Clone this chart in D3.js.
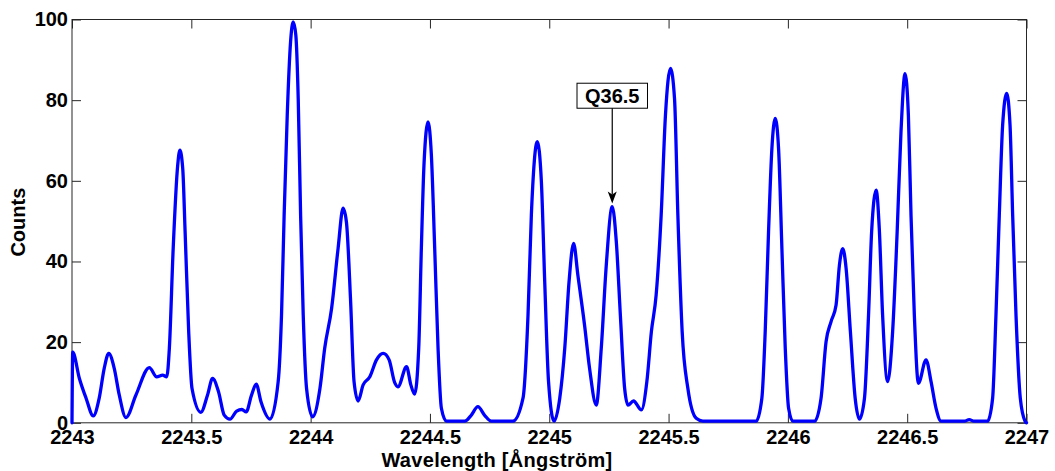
<!DOCTYPE html>
<html><head><meta charset="utf-8">
<script src="https://cdn.jsdelivr.net/npm/d3@7"></script>
<style>
body{margin:0;background:#fff}
svg{display:block}
text{font-family:"Liberation Sans",Arial,Helvetica,sans-serif;font-weight:bold;fill:#000}
</style>
</head><body><svg id="c" width="1055" height="471"></svg>
<script>
const wavelength = [
 2243.000,2243.003,2243.031,2243.059,2243.089,2243.114,2243.135,2243.154,2243.177,2243.198,
 2243.226,2243.268,2243.324,2243.355,2243.380,2243.397,2243.408,2243.424,2243.443,2243.452,
 2243.464,2243.474,2243.489,2243.503,2243.540,2243.568,2243.589,2243.614,2243.638,2243.662,
 2243.690,2243.712,2243.730,2243.752,2243.772,2243.792,2243.830,2243.864,2243.878,2243.889,
 2243.902,2243.916,2243.927,2243.938,2243.948,2243.958,2243.969,2243.983,2244.008,2244.039,
 2244.059,2244.088,2244.115,2244.136,2244.150,2244.167,2244.182,2244.199,2244.220,2244.248,
 2244.276,2244.304,2244.329,2244.352,2244.366,2244.402,2244.420,2244.436,2244.453,2244.464,
 2244.475,2244.492,2244.506,2244.520,2244.534,2244.548,2244.569,2244.646,2244.672,2244.701,
 2244.730,2244.757,2244.848,2244.890,2244.911,2244.925,2244.950,2244.967,2244.981,2244.997,
 2245.020,2245.044,2245.065,2245.083,2245.102,2245.120,2245.148,2245.169,2245.197,2245.218,
 2245.239,2245.264,2245.281,2245.298,2245.316,2245.330,2245.353,2245.386,2245.409,2245.428,
 2245.448,2245.469,2245.487,2245.508,2245.525,2245.539,2245.557,2245.581,2245.616,2245.644,
 2245.867,2245.891,2245.905,2245.919,2245.933,2245.947,2245.961,2245.975,2245.989,2246.003,
 2246.021,2246.112,2246.139,2246.160,2246.181,2246.202,2246.216,2246.230,2246.244,2246.262,
 2246.282,2246.300,2246.321,2246.338,2246.351,2246.370,2246.383,2246.397,2246.418,2246.439,
 2246.458,2246.474,2246.491,2246.505,2246.516,2246.530,2246.547,2246.579,2246.600,2246.621,
 2246.642,2246.740,2246.760,2246.780,2246.837,2246.858,2246.872,2246.886,2246.900,2246.917,
 2246.931,2246.942,2246.956,2246.974,2246.994,2247.000
];
const counts = [
 0.0,17.5,11.0,6.1,1.7,6.1,13.5,17.2,13.5,6.9,
 1.3,6.9,13.7,11.4,11.8,11.4,18.5,43.2,63.9,67.6,
 63.1,47.4,22.6,8.5,2.6,6.9,11.0,7.7,1.9,0.9,
 2.9,3.3,2.7,6.8,9.6,5.2,0.9,10.2,26.7,51.5,
 76.3,94.5,99.4,96.1,80.4,51.5,26.7,8.5,1.5,8.5,
 18.5,28.4,43.2,53.2,49.8,30.9,10.2,5.4,9.4,11.4,
 15.6,17.2,15.6,10.0,8.9,13.9,9.4,7.1,18.5,43.2,
 63.9,74.6,66.4,43.2,18.5,3.6,0.4,0.4,1.8,4.0,
 1.8,0.4,0.4,6.1,26.7,51.5,69.7,59.8,35.0,10.2,
 0.4,6.1,18.5,35.0,44.5,36.6,24.2,13.5,4.4,18.5,
 39.1,53.6,44.9,26.7,8.5,4.4,5.4,3.2,10.2,22.6,
 31.7,51.5,76.3,87.9,80.4,51.5,22.6,8.5,1.1,0.4,
 0.4,6.1,22.6,47.4,68.0,75.5,68.0,43.2,18.5,3.6,
 0.4,0.4,6.1,20.1,25.1,29.2,39.1,43.2,38.3,22.6,
 6.1,0.9,6.1,26.7,47.4,57.7,48.2,26.7,10.2,22.6,
 47.4,72.1,86.6,76.3,51.5,26.7,9.8,15.6,10.2,3.6,
 0.4,0.4,0.8,0.4,0.4,6.1,26.7,51.5,73.8,81.7,
 73.8,51.5,26.7,6.1,0.4,0.0
];
const xTicks = [2243, 2243.5, 2244, 2244.5, 2245, 2245.5, 2246, 2246.5, 2247];
const xTickLabels = ["2243", "2243.5", "2244", "2244.5", "2245", "2245.5", "2246", "2246.5", "2247"];
const yTicks = [0, 20, 40, 60, 80, 100];
const yTickLabels = ["0", "20", "40", "60", "80", "100"];
const xLabel = "Wavelength [Ångström]";
const yLabel = "Counts";
const annotationLabel = "Q36.5";
const annotationX = 2245.264;
const annotationY = 54.4;
const annotationBoxY = 81.1;

const W = 1055, H = 471;
const m = {left: 72, top: 19.5, right: 28.5, bottom: 48.2};
const svg = d3.select("#c");
const x = d3.scaleLinear().domain([2243, 2247]).range([m.left, W - m.right]);
const y = d3.scaleLinear().domain([0, 100]).range([H - m.bottom, m.top]);
const axisColor = "#262626";
const fs = "20px";

function styleAxis(g) {
  g.select(".domain").remove();
  g.selectAll(".tick line").attr("stroke", axisColor).attr("stroke-width", 1);
  g.selectAll(".tick text").attr("font-size", fs).attr("font-family", null).attr("fill", "#000");
  g.attr("font-family", null).attr("font-size", null);
}
const xi = d3.scaleOrdinal().domain(xTicks).range(xTickLabels);
const yi = d3.scaleOrdinal().domain(yTicks).range(yTickLabels);

svg.append("g").attr("transform", `translate(0,${y(0)})`)
  .call(d3.axisBottom(x).tickValues(xTicks).tickFormat(d => xi(d)).tickSizeInner(-9).tickSizeOuter(0).tickPadding(7.5))
  .call(styleAxis);
svg.append("g").attr("transform", `translate(0,${y(100)})`)
  .call(d3.axisTop(x).tickValues(xTicks).tickFormat("").tickSizeInner(-9).tickSizeOuter(0))
  .call(styleAxis);
svg.append("g").attr("transform", `translate(${x(2243)},0)`)
  .call(d3.axisLeft(y).tickValues(yTicks).tickFormat(d => yi(d)).tickSizeInner(-9).tickSizeOuter(0).tickPadding(4))
  .call(styleAxis);
svg.append("g").attr("transform", `translate(${x(2247)},0)`)
  .call(d3.axisRight(y).tickValues(yTicks).tickFormat("").tickSizeInner(-9).tickSizeOuter(0))
  .call(styleAxis);

svg.append("rect")
  .attr("x", x(2243)).attr("y", y(100))
  .attr("width", x(2247) - x(2243)).attr("height", y(0) - y(100))
  .attr("fill", "none").attr("stroke", axisColor).attr("stroke-width", 1);

const pts = wavelength.map((w, i) => [w, counts[i]]);
const line = d3.line().x(d => x(d[0])).y(d => y(d[1])).curve(d3.curveMonotoneX);
svg.append("path").datum(pts).attr("d", line)
  .attr("fill", "none").attr("stroke", "#0000ff").attr("stroke-width", 3.3)
  .attr("stroke-linejoin", "round").attr("stroke-linecap", "round");

// axis labels
svg.append("text").attr("x", 497).attr("y", 466.5).attr("text-anchor", "middle")
  .attr("font-size", fs).attr("letter-spacing", "0.3px").text(xLabel);
svg.append("text").attr("transform", `translate(25,${(y(0) + y(100)) / 2 + 1}) rotate(-90)`)
  .attr("text-anchor", "middle").attr("font-size", fs).text(yLabel);

// annotation
const ax = x(annotationX), ay = y(annotationY), by = y(annotationBoxY);
const ag = svg.append("g");
const t = ag.append("text").attr("x", ax).attr("y", by + 7.5).attr("text-anchor", "middle")
  .attr("font-size", fs).text(annotationLabel);
const bb = t.node().getBBox();
const padX = 8;
const boxW = bb.width + 2 * padX, boxH = 25;
ag.insert("rect", "text").attr("x", ax - boxW / 2).attr("y", by - boxH / 2)
  .attr("width", boxW).attr("height", boxH).attr("fill", "#fff").attr("stroke", "#000").attr("stroke-width", 1);
const headL = 12, headW = 4.5;
ag.append("line").attr("x1", ax).attr("y1", by + boxH / 2).attr("x2", ax).attr("y2", ay - headL + 3)
  .attr("stroke", "#000").attr("stroke-width", 1.2);
ag.append("path")
  .attr("d", `M${ax},${ay} L${ax - headW},${ay - headL} L${ax},${ay - headL + 3} L${ax + headW},${ay - headL} Z`)
  .attr("fill", "#000");
</script>
</body></html>
